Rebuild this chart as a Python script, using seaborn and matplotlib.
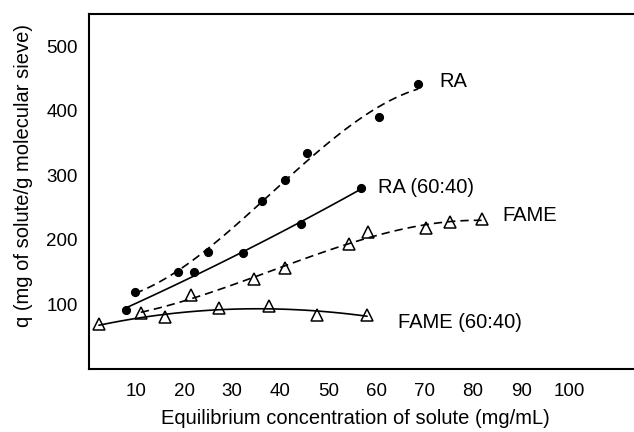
import matplotlib
matplotlib.use("Agg")
import matplotlib.pyplot as plt
import seaborn as sns
import pandas as pd

# ---- data ----
ra_x = [9.8, 18.7, 25.0, 36.2, 40.9, 45.6, 60.5, 68.6]
ra_y = [120, 150, 181, 260, 293, 334, 391, 441]

ra6040_x = [7.9, 22.0, 32.2, 44.3, 56.7]
ra6040_y = [92, 151, 179, 224, 281]

fame_x = [11.0, 21.4, 34.5, 40.9, 54.2, 58.2, 70.2, 75.2, 81.8]
fame_y = [86, 114, 139, 156, 193, 212, 219, 227, 232]

fame6040_x = [2.3, 16.0, 27.2, 37.6, 47.6, 58.0]
fame6040_y = [69, 80, 95, 98, 83, 84]

x_ticks = [10, 20, 30, 40, 50, 60, 70, 80, 90, 100]
y_ticks = [100, 200, 300, 400, 500]

labels = ["RA", "RA (60:40)", "FAME", "FAME (60:40)"]
label_pos_x = [73.1, 60.2, 86.2, 64.4]
label_pos_y = [446, 281, 238, 72]

sns.set_style("white")
plt.rcParams["font.family"] = ["Liberation Sans", "DejaVu Sans"]
plt.rcParams.update({
    "text.color": "black",
    "axes.labelcolor": "black",
    "xtick.color": "black",
    "ytick.color": "black",
    "axes.edgecolor": "black",
})

fig = plt.figure(figsize=(6.34, 4.32), dpi=100)
ax = fig.add_axes([89 / 634, 1 - 369 / 432, 551 / 634, 355 / 432])

series = [
    (ra_x, ra_y, 3, (0, (5, 3)), "o", "k", 5.5),
    (ra6040_x, ra6040_y, 2, "-", "o", "k", 5.5),
    (fame_x, fame_y, 3, (0, (5, 3)), "^", "none", 9),
    (fame6040_x, fame6040_y, 3, "-", "^", "none", 9),
]

for xs, ys, order, ls, marker, fc, ms in series:
    df = pd.DataFrame({"x": xs, "y": ys})
    sns.regplot(data=df, x="x", y="y", order=order, ci=None, scatter=False,
                ax=ax, line_kws=dict(color="black", lw=1.2, linestyle=ls))
    ax.plot(df["x"], df["y"], linestyle="none", marker=marker,
            markerfacecolor=fc, markeredgecolor="black", markeredgewidth=1.1,
            markersize=ms, zorder=5)

for t, lx, ly in zip(labels, label_pos_x, label_pos_y):
    ax.text(lx, ly, t, ha="left", va="center", fontsize=14.5, color="black")

ax.set_xlim(0.24, 114.7)
ax.set_ylim(0, 550)
ax.set_xticks(x_ticks)
ax.set_yticks(y_ticks)
ax.tick_params(axis="both", direction="out", length=4, width=1.2,
               labelsize=13.5, pad=4, color="black", labelcolor="black")
ax.tick_params(axis="x", pad=6)

for side in ["left", "bottom", "top"]:
    ax.spines[side].set_visible(True)
    ax.spines[side].set_linewidth(1.5)
    ax.spines[side].set_color("black")
ax.spines["right"].set_visible(False)

ax.set_xlabel("Equilibrium concentration of solute (mg/mL)", fontsize=14.5, color="black")
ax.set_ylabel("q (mg of solute/g molecular sieve)", fontsize=14.5, color="black")
ax.xaxis.set_label_coords(0.483, -0.112)
ax.yaxis.set_label_coords(-0.102, 0.546)

fig.savefig("out.png", dpi=100)
